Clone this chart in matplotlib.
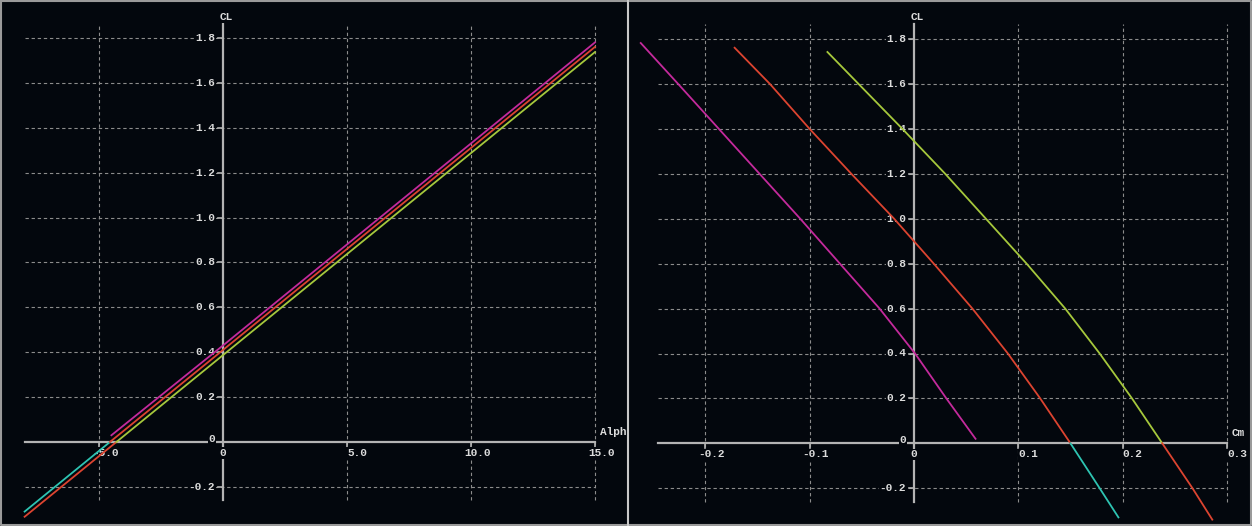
import numpy as np
import matplotlib.pyplot as plt

# ---- data ----
# left panel: CL vs Alpha
alpha_mag = [-4.5, 0.0, 5.0, 10.0, 15.0]
cl_mag = [0.03, 0.43, 0.88, 1.33, 1.78]

alpha_b_neg = [-8.0, -4.56]
cl_b_neg = [-0.31, 0.0]
alpha_b_pos = [-4.56, 0.0, 5.0, 10.0, 15.0]
cl_b_pos = [0.0, 0.41, 0.86, 1.31, 1.76]

alpha_c_neg = [-8.0, -4.3]
cl_c_neg = [-0.333, 0.0]
alpha_c_pos = [-4.3, 0.0, 5.0, 10.0, 15.0]
cl_c_pos = [0.0, 0.387, 0.837, 1.287, 1.737]

# right panel: CL vs Cm
cm_mag = [-0.262, -0.226, -0.187, -0.148, -0.109, -0.071, -0.033, 0.001, 0.031, 0.059]
clm_mag = [1.783, 1.6, 1.4, 1.2, 1.0, 0.8, 0.6, 0.4, 0.2, 0.02]

cm_b_pos = [-0.172, -0.138, -0.100, -0.060, -0.019, 0.019, 0.056, 0.090, 0.121, 0.150]
clm_b_pos = [1.762, 1.6, 1.4, 1.2, 1.0, 0.8, 0.6, 0.4, 0.2, 0.0]
cm_b_neg = [0.150, 0.178, 0.196]
clm_b_neg = [0.0, -0.2, -0.33]

cm_c_pos = [-0.083, -0.053, -0.011, 0.030, 0.069, 0.108, 0.145, 0.178, 0.209, 0.238]
clm_c_pos = [1.743, 1.6, 1.4, 1.2, 1.0, 0.8, 0.6, 0.4, 0.2, 0.0]
cm_c_neg = [0.238, 0.267, 0.286]
clm_c_neg = [0.0, -0.2, -0.34]

cl_ticks = [-0.2, 0.2, 0.4, 0.6, 0.8, 1.0, 1.2, 1.4, 1.6, 1.8]
alpha_ticks = [-5.0, 5.0, 10.0, 15.0]
cm_ticks = [-0.2, -0.1, 0.1, 0.2, 0.3]

BG = "#03070d"
AXC = "#b4b4b4"
GRC = "#8c8c8c"
TXT = "#dcdcdc"
RED = "#dc4430"
MAG = "#c42a9c"
GRN = "#a6c83c"
CYA = "#2ec4b2"
FONT = "Liberation Mono"

W, H = 1252, 526
fig = plt.figure(figsize=(W / 100, H / 100), dpi=100, facecolor=BG)


def make_axes(x0, wpx, px0, ppu_x, py0, ppu_y):
    ax = fig.add_axes([x0 / W, 0, wpx / W, 1])
    ax.set_facecolor(BG)
    ax.set_axis_off()
    ax.set_xlim((x0 - px0) / ppu_x, (x0 + wpx - px0) / ppu_x)
    ax.set_ylim((py0 - H) / ppu_y, py0 / ppu_y)
    return ax


def label(ax, x, y, s, **kw):
    ax.text(x, y, s, color=TXT, fontsize=8, family=FONT, weight="bold",
            bbox=dict(boxstyle="square,pad=0.05", fc=BG, ec="none"), zorder=2.5, **kw)


def decorate(ax, xgrid, xticks, xfmt, gx0, gx1, gy0, gy1, xname, x_per_px, y_per_px):
    dash = dict(color=GRC, lw=0.8, ls=(0, (3, 2.5)), zorder=1)
    for v in cl_ticks:
        ax.plot([gx0, gx1], [v, v], **dash)
    for v in xgrid:
        ax.plot([v, v], [gy0, gy1], **dash)
    ax.plot([gx0, gx1], [0, 0], color=AXC, lw=1.6, zorder=2)
    ax.plot([0, 0], [gy0, gy1], color=AXC, lw=1.6, zorder=2)
    for v in cl_ticks:
        ax.plot([-5 * x_per_px, 0], [v, v], color=AXC, lw=1.2, zorder=2)
        label(ax, -8 * x_per_px, v, f"{v:.1f}", ha="right", va="center")
    for v in xticks:
        ax.plot([v, v], [0, -5 * y_per_px], color=AXC, lw=1.2, zorder=2)
        lab = xfmt(v)
        shift = 7 * (len(lab) - 3)
        label(ax, v - shift * x_per_px, -11 * y_per_px, lab, ha="left", va="center")
    label(ax, -8 * x_per_px, 3 * y_per_px, "0", ha="right", va="center")
    label(ax, 0, -11 * y_per_px, "0", ha="center", va="center")
    label(ax, -3 * x_per_px, gy1 + 7 * y_per_px, "CL", ha="left", va="center")
    label(ax, gx1 + 5 * x_per_px, 10 * y_per_px, xname, ha="left", va="center")


# left panel
axL = make_axes(0, 627, 223, 24.8, 442, 224.5)
decorate(axL, alpha_ticks, alpha_ticks, lambda v: f"{v:.1f}",
         -8.0, 15.0, -0.258, 1.862, "Alph", 1 / 24.8, 1 / 224.5)
axL.plot(alpha_b_neg, cl_b_neg, color=CYA, lw=1.3, zorder=3)
axL.plot(alpha_c_neg, cl_c_neg, color=RED, lw=1.3, zorder=3)
axL.plot(alpha_c_pos, cl_c_pos, color=GRN, lw=1.3, zorder=3)
axL.plot(alpha_b_pos, cl_b_pos, color=RED, lw=1.3, zorder=3)
axL.plot(alpha_mag, cl_mag, color=MAG, lw=1.3, zorder=3)

# right panel
axR = make_axes(628, 624, 914, 1043, 443.3, 224.5)
decorate(axR, cm_ticks, cm_ticks, lambda v: f"{v:.1f}",
         -0.245, 0.300, -0.26, 1.868, "Cm", 1 / 1043, 1 / 224.5)
axR.plot(cm_mag, clm_mag, color=MAG, lw=1.3, zorder=3)
axR.plot(cm_b_pos, clm_b_pos, color=RED, lw=1.3, zorder=3)
axR.plot(cm_b_neg, clm_b_neg, color=CYA, lw=1.3, zorder=3)
axR.plot(cm_c_pos, clm_c_pos, color=GRN, lw=1.3, zorder=3)
axR.plot(cm_c_neg, clm_c_neg, color=RED, lw=1.3, zorder=3)

# frame and panel separator
fr = fig.add_axes([0, 0, 1, 1], facecolor="none")
fr.set_axis_off()
fr.set_xlim(0, W)
fr.set_ylim(H, 0)
fr.plot([1, W - 1, W - 1, 1, 1], [1, 1, H - 1, H - 1, 1], color="#9a9a9a", lw=1.5)
fr.plot([627.5, 627.5], [0, H], color="#c8c8c8", lw=1.5)

fig.savefig("out.png", dpi=100, facecolor=BG)
